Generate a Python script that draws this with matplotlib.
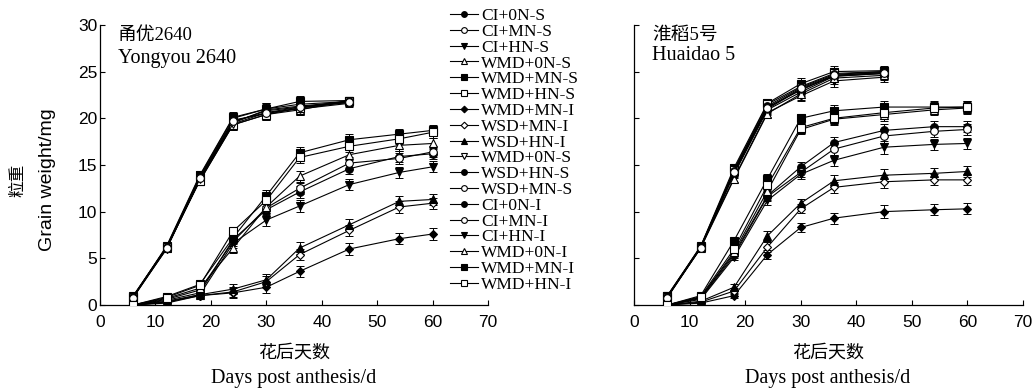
import matplotlib
matplotlib.use("Agg")
import matplotlib.pyplot as plt

plt.rcParams.update({
    "font.family": ["Liberation Serif", "Noto Sans CJK SC"],
    "axes.linewidth": 0.9,
    "xtick.direction": "in", "ytick.direction": "in",
    "axes.spines.top": False, "axes.spines.right": False,
})
SANS = ["Liberation Sans", "DejaVu Sans"]
SERIF = ["Liberation Serif", "Noto Sans CJK SC"]

# days after anthesis: superior grains sampled to day 45, inferior to day 60
days_s = [6, 12, 18, 24, 30, 36, 45]
days_i = [6, 12, 18, 24, 30, 36, 45, 54, 60]

labels = ["CI+0N-S", "CI+MN-S", "CI+HN-S", "WMD+0N-S", "WMD+MN-S", "WMD+HN-S",
          "WMD+MN-I", "WSD+MN-I", "WSD+HN-I", "WMD+0N-S", "WSD+HN-S", "WSD+MN-S",
          "CI+0N-I", "CI+MN-I", "CI+HN-I", "WMD+0N-I", "WMD+MN-I", "WMD+HN-I"]
# True = superior series (ends at day 45)
superior = [True] * 6 + [False] * 3 + [True] * 3 + [False] * 6

# Yongyou 2640
yy = [
    [0.9, 6.1, 13.5, 19.6, 20.8, 21.2, 21.8],
    [0.9, 6.2, 13.7, 19.8, 20.5, 21.1, 21.7],
    [0.8, 6.0, 13.4, 19.5, 20.9, 21.3, 21.8],
    [0.9, 6.1, 13.3, 19.3, 20.4, 20.9, 21.9],
    [0.9, 6.3, 13.9, 20.1, 21.0, 21.8, 21.9],
    [1.0, 6.2, 13.3, 19.3, 20.4, 21.1, 21.9],
    [0.0, 0.3, 1.0, 1.3, 1.9, 3.6, 6.0, 7.1, 7.6],
    [0.0, 0.2, 1.0, 1.4, 2.5, 5.4, 8.0, 10.5, 10.9],
    [0.0, 0.4, 1.1, 1.7, 2.7, 6.1, 8.6, 11.1, 11.3],
    [0.9, 6.0, 13.5, 19.4, 20.6, 21.0, 21.6],
    [0.9, 6.2, 13.8, 20.0, 21.0, 21.5, 21.8],
    [0.8, 6.1, 13.6, 19.7, 20.6, 21.2, 21.7],
    [0.0, 0.5, 1.3, 7.0, 10.2, 12.1, 14.6, 15.9, 16.2],
    [0.0, 0.6, 1.6, 6.8, 10.4, 12.5, 15.2, 15.7, 16.4],
    [0.0, 0.3, 1.1, 6.6, 9.1, 10.6, 12.9, 14.2, 14.8],
    [0.0, 0.7, 1.8, 6.1, 10.5, 13.8, 16.1, 17.1, 17.3],
    [0.0, 0.9, 2.2, 7.2, 11.7, 16.3, 17.7, 18.3, 18.7],
    [0.0, 0.8, 2.1, 7.9, 11.2, 15.8, 17.0, 17.8, 18.5],
]
yy_err_s = [0.1, 0.3, 0.4, 0.6, 0.6, 0.6, 0.4]
yy_err_i = [0.05, 0.1, 0.2, 0.5, 0.6, 0.6, 0.6, 0.6, 0.6]

# Huaidao 5
hd = [
    [0.9, 6.2, 14.3, 21.2, 23.0, 24.6, 24.9],
    [0.9, 6.1, 14.0, 20.9, 22.8, 24.5, 24.8],
    [0.8, 6.2, 13.6, 20.6, 22.4, 24.0, 24.4],
    [0.9, 6.1, 13.5, 20.5, 22.6, 24.3, 24.6],
    [1.0, 6.3, 14.7, 21.6, 23.7, 25.0, 25.1],
    [1.0, 6.2, 14.5, 21.5, 23.4, 24.8, 25.0],
    [0.0, 0.2, 1.0, 5.4, 8.3, 9.3, 10.0, 10.2, 10.3],
    [0.0, 0.3, 1.5, 6.2, 10.3, 12.6, 13.2, 13.4, 13.4],
    [0.0, 0.4, 1.9, 7.4, 10.9, 13.3, 13.9, 14.1, 14.3],
    [0.9, 6.2, 14.1, 21.0, 23.1, 24.5, 24.8],
    [0.9, 6.3, 14.4, 21.3, 23.3, 24.7, 25.0],
    [0.8, 6.1, 14.2, 21.1, 23.2, 24.6, 24.9],
    [0.0, 0.8, 5.5, 11.7, 14.8, 17.4, 18.7, 19.1, 19.1],
    [0.0, 0.7, 5.3, 11.6, 14.2, 16.7, 18.1, 18.6, 18.8],
    [0.0, 0.6, 5.1, 11.2, 14.0, 15.5, 16.9, 17.2, 17.3],
    [0.0, 0.8, 5.7, 12.2, 18.8, 19.9, 20.4, 20.9, 21.1],
    [0.0, 1.0, 6.9, 13.5, 20.0, 20.8, 21.2, 21.2, 21.2],
    [0.0, 0.9, 6.0, 12.8, 19.0, 20.0, 20.6, 21.1, 21.2],
]
hd_err_s = [0.1, 0.3, 0.4, 0.5, 0.6, 0.6, 0.5]
hd_err_i = [0.05, 0.1, 0.3, 0.5, 0.5, 0.6, 0.7, 0.6, 0.6]

markers = ["o", "o", "v", "^", "s", "s", "D", "D", "^", "v", "o", "o",
           "o", "o", "v", "^", "s", "s"]
filled = [True, False, True, False, True, False, True, False, True, False, True, False,
          True, False, True, False, True, False]

fig = plt.figure(figsize=(10.35, 3.89), dpi=100)
ax1 = fig.add_axes([0.0966, 0.216, 0.375, 0.720])
ax2 = fig.add_axes([0.6126, 0.216, 0.3758, 0.720])

for ax, data, es, ei in [(ax1, yy, yy_err_s, yy_err_i), (ax2, hd, hd_err_s, hd_err_i)]:
    for k, vals in enumerate(data):
        x = days_s if superior[k] else days_i
        err = es if superior[k] else ei
        ax.errorbar(x, vals, yerr=err, fmt="none", ecolor="black", elinewidth=0.7,
                    capsize=3, capthick=0.7, zorder=2)
        ax.plot(x, vals, color="black", lw=0.8, marker=markers[k],
                markersize=5.5 if markers[k] != "D" else 4.5,
                mfc="black" if filled[k] else "white", mec="black", mew=0.8,
                label=labels[k], zorder=3)
    ax.set_xlim(0, 70)
    ax.set_ylim(0, 30)
    ax.set_xticks(range(0, 71, 10))
    ax.set_yticks(range(0, 31, 5))
    ax.tick_params(length=3.5, width=0.8, labelsize=12.5, pad=7)
    ax.tick_params(axis="y", pad=2)
    for t in ax.get_xticklabels() + ax.get_yticklabels():
        t.set_family(SANS)

ax2.tick_params(axis="y", labelleft=False)

# panel titles (cultivar names)
fig.text(118 / 1035, 1 - 35 / 389, "甬优2640", fontsize=13.5, va="center", family=SERIF)
fig.text(118 / 1035, 1 - 58 / 389, "Yongyou 2640", fontsize=14.5, va="center", family=SERIF)
fig.text(652 / 1035, 1 - 35 / 389, "淮稻5号", fontsize=13.5, va="center", family=SERIF)
fig.text(652 / 1035, 1 - 56 / 389, "Huaidao 5", fontsize=14.5, va="center", family=SERIF)

fig.text(18 / 1035, 1 - 180 / 389, "粒重", fontsize=12, rotation=90, ha="center", va="center",
         family=SERIF)
fig.text(47 / 1035, 1 - 180 / 389, "Grain weight/mg", fontsize=14, rotation=90,
         ha="center", va="center", family=SANS)

for cx in [294 / 1035, 828 / 1035]:
    fig.text(cx, 1 - 353 / 389, "花后天数", fontsize=13, ha="center", va="center", family=SERIF)
    fig.text(cx, 1 - 378 / 389, "Days post anthesis/d", fontsize=14.5, ha="center", va="center",
             family=SERIF)

fig.legend(*ax1.get_legend_handles_labels(), loc="upper left",
           bbox_to_anchor=(450 / 1035, 1 - 8 / 389), frameon=False, fontsize=12.5,
           labelspacing=-0.02, handlelength=1.6, handletextpad=0.2, markerscale=0.75,
           borderpad=0, borderaxespad=0)

fig.savefig("out.png", dpi=100)
